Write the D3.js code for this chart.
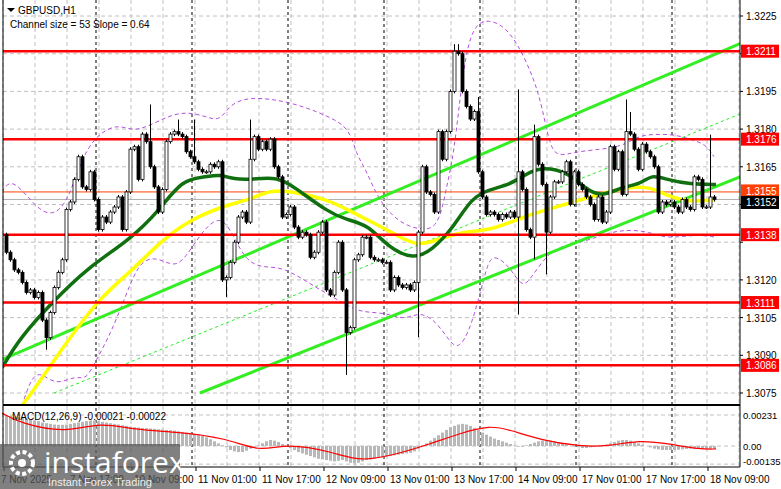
<!DOCTYPE html>
<html><head><meta charset="utf-8">
<script src="https://cdn.jsdelivr.net/npm/d3@7"></script>
<style>body{margin:0;background:#fff}svg{display:block;font-family:"Liberation Sans",Arial,sans-serif}</style>
</head><body><svg id="c" width="781" height="489"></svg>
<script>
const closes=[1.3131,1.3128,1.3124,1.3123,1.3119,1.3115,1.3116,1.3113,1.3115,1.3104,
1.3097,1.3107,1.3117,1.3123,1.3128,1.3148,1.3151,1.3160,1.3169,1.3157,
1.3156,1.3163,1.3152,1.3140,1.3145,1.3143,1.3147,1.3149,1.3153,1.3140,
1.3155,1.3172,1.3173,1.3160,1.3178,1.3175,1.3165,1.3157,1.3147,1.3156,
1.3175,1.3178,1.3179,1.3178,1.3177,1.3171,1.3169,1.3167,1.3164,1.3163,
1.3163,1.3166,1.3165,1.3167,1.3120,1.3121,1.3127,1.3135,1.3145,1.3147,
1.3143,1.3168,1.3177,1.3172,1.3175,1.3172,1.3176,1.3165,1.3161,1.3145,
1.3146,1.3149,1.3141,1.3137,1.3139,1.3138,1.3129,1.3131,1.3139,1.3143,
1.3116,1.3114,1.3123,1.3135,1.3116,1.3099,1.3101,1.3128,1.3130,1.3137,
1.3137,1.3129,1.3128,1.3128,1.3127,1.3127,1.3116,1.3121,1.3118,1.3117,
1.3118,1.3116,1.3119,1.3139,1.3165,1.3155,1.3154,1.3147,1.3179,1.3168,
1.3179,1.3195,1.3211,1.3210,1.3195,1.3189,1.3184,1.3187,1.3163,1.3153,
1.3146,1.3147,1.3146,1.3144,1.3146,1.3145,1.3147,1.3145,1.3163,1.3156,
1.3140,1.3137,1.3177,1.3166,1.3158,1.3139,1.3153,1.3159,1.3159,1.3163,
1.3167,1.3150,1.3163,1.3158,1.3156,1.3153,1.3150,1.3144,1.3153,1.3143,
1.3147,1.3173,1.3164,1.3171,1.3154,1.3179,1.3178,1.3172,1.3164,1.3174,
1.3171,1.3169,1.3165,1.3147,1.3151,1.3150,1.3151,1.3149,1.3147,1.3152,
1.3149,1.3148,1.3161,1.3160,1.3149,1.3149,1.3153,1.3152];
const firstOpen=1.3138;
const highs=[[36,1.3189],[43,1.3183],[47,1.3183],[61,1.3183],[112,1.3213],[113,1.3213],[118,1.3192],[128,1.3195],[132,1.3181],[155,1.3191],[156,1.3186],[176,1.3177]];
const lows=[[10,1.3093],[55,1.3114],[85,1.3083],[103,1.3098],[128,1.3107],[132,1.3129],[135,1.3123]];
const levels=[1.3211,1.3176,1.3138,1.3111,1.3086];
const priceTicks=[1.3225,1.3210,1.3195,1.3180,1.3165,1.3150,1.3135,1.3120,1.3105,1.3090,1.3075];
const timeLabels=["7 Nov 2025","7 Nov 17:00","10 Nov 09:00","11 Nov 01:00","11 Nov 17:00","12 Nov 09:00","13 Nov 01:00","13 Nov 17:00","14 Nov 09:00","17 Nov 01:00","17 Nov 17:00","18 Nov 09:00"];
const daySeps=[22.5,46.5,70.5,94.5,118.5,142.5,166.5];
const maFast=[[-1,1.3085],[3.5,1.3097],[11.5,1.3111],[20.5,1.3125],[31,1.3136],[38.5,1.3148],[44,1.3160],[50,1.3161],[53.5,1.3162],[57,1.3160],[61.5,1.3160],[68,1.3161],[72,1.3157],[80.5,1.3147],[85,1.3144],[90.5,1.3142],[95.5,1.3133],[102,1.3128],[106.5,1.3132],[111.5,1.3140],[116.5,1.3153],[121,1.3156],[126,1.3158],[130,1.3162],[133.5,1.3165],[140.5,1.3163],[145,1.3156],[149,1.3153],[154,1.3157],[158.5,1.3158],[161.5,1.3162],[165,1.3160],[171,1.3158],[177.5,1.3158]];
const maSlow=[[3,1.3068],[6.5,1.3075],[15,1.3095],[23.5,1.3113],[31,1.3123],[38.5,1.3135],[45,1.3143],[53.5,1.3149],[61,1.3152],[66.5,1.3156],[72,1.3155],[80.5,1.3152],[86.5,1.3147],[91.5,1.3143],[97.5,1.3138],[103,1.3133],[109.5,1.3137],[114,1.3139],[122,1.3140],[129,1.3145],[137.5,1.3149],[144,1.3152],[152.5,1.3156],[157.5,1.3157],[161,1.3157],[166,1.3153],[171,1.3151],[177.5,1.3152]];
const envUpper=[[-1,1.3155],[1,1.3160],[4.5,1.3155],[7,1.3150],[11,1.3145],[15.5,1.3150],[20,1.3175],[28,1.3183],[32,1.3178],[40,1.3185],[45,1.3187],[50,1.3185],[53.5,1.3183],[56,1.3190],[61,1.3193],[71,1.3191],[81,1.3185],[86,1.3180],[87.5,1.3170],[90,1.3164],[93,1.3152],[98,1.3143],[103,1.3140],[108,1.3140],[110,1.3156],[112,1.3170],[114,1.3200],[116,1.3218],[119,1.3224],[124,1.3222],[128,1.3214],[132,1.3200],[134,1.3189],[136,1.3173],[138,1.3169],[142.5,1.3171],[149,1.3172],[153,1.3173],[156,1.3175],[159,1.3178],[167,1.3178],[171,1.3176],[175,1.3174],[177,1.3169]];
const envLower=[[4,1.3070],[6.5,1.3082],[9,1.3083],[12.5,1.3078],[17.5,1.3082],[20,1.3080],[22.5,1.3088],[26,1.3098],[30,1.3114],[33.5,1.3128],[38,1.3129],[42,1.3125],[45,1.3129],[48.5,1.3138],[52,1.3144],[55,1.3144],[59,1.3130],[62,1.3126],[65,1.3125],[69.5,1.3125],[76.5,1.3118],[85,1.3110],[89,1.3107],[95,1.3107],[99.5,1.3104],[103,1.3107],[106.5,1.3105],[110,1.3098],[113,1.3091],[116.5,1.3102],[119.5,1.3121],[121,1.3129],[123,1.3129],[126,1.3125],[129,1.3117],[131,1.3120],[136,1.3132],[141,1.3134],[146,1.3136],[151,1.3139],[156,1.3140],[161,1.3139],[164,1.3137],[168,1.3137],[173,1.3138],[177.5,1.3137]];
const chUpper=[[-1.5,1.3088],[183.5,1.3214]];
const chLower=[[48.5,1.3075],[183.5,1.3161]];
const chMid=[[12,1.3075],[183.5,1.3186]];
const macdHist=[230,225,220,215,210,205,200,190,185,175,170,165,160,158,158,160,165,170,175,180,185,190,190,185,180,175,170,165,160,155,150,145,140,138,135,133,130,128,125,122,120,118,115,110,105,100,95,90,85,75,65,50,35,20,5,-10,-30,-40,-45,-45,-35,-20,-5,5,20,35,45,40,30,15,0,-15,-30,-45,-55,-65,-75,-85,-95,-100,-105,-110,-115,-110,-105,-115,-125,-130,-125,-115,-105,-100,-95,-90,-85,-80,-75,-70,-65,-60,-55,-50,-40,-20,5,20,40,60,80,100,120,140,150,160,165,160,150,135,120,100,85,70,55,45,35,25,15,5,-5,-5,5,15,25,35,40,45,40,35,30,20,10,0,-5,-10,-15,-15,-10,-5,0,5,10,20,30,40,45,45,40,30,20,10,0,-10,-20,-25,-30,-30,-30,-30,-28,-25,-22,-20,-20,-20,-20,-20,-21,-21];
const macdSignal=[[-1,245],[3.5,170],[15,95],[23.5,180],[32,120],[43,105],[55,60],[63.5,-45],[70,20],[82,-45],[88.5,-120],[98.5,-55],[106,15],[113.5,95],[121,155],[126,120],[133.5,45],[143.5,-5],[151,0],[158.5,45],[166,15],[173.5,-25],[177.5,-22]];

const svg=d3.select("#c");
const L=3,R=740,T=0,B=405,MB=467;
const FS=10;
const x=d3.scaleLinear().domain([0,177]).range([6,714]);
const y=d3.scaleLinear().domain([1.3075,1.3225]).range([393,16]);
const ym=d3.scaleLinear().domain([0,231]).range([446,415]);
const g=svg.append("g");
const gridX=d3.range(-0.75,184,8);
g.selectAll(".gx").data(gridX).enter().append("line").attr("x1",d=>x(d)).attr("x2",d=>x(d)).attr("y1",T).attr("y2",MB).attr("stroke","#c0c0c0").attr("stroke-dasharray","4,3");
g.selectAll(".gy").data(priceTicks).enter().append("line").attr("x1",L).attr("x2",R).attr("y1",d=>y(d)).attr("y2",d=>y(d)).attr("stroke","#c0c0c0").attr("stroke-dasharray","4,3");
g.selectAll(".gm").data([231,0,-135]).enter().append("line").attr("x1",L).attr("x2",R).attr("y1",d=>ym(d)).attr("y2",d=>ym(d)).attr("stroke","#c0c0c0").attr("stroke-dasharray","4,3");
g.selectAll(".ds").data(daySeps).enter().append("line").attr("x1",d=>x(d)).attr("x2",d=>x(d)).attr("y1",T).attr("y2",MB).attr("stroke","#000").attr("stroke-dasharray","3,3");
g.append("line").attr("x1",L).attr("x2",R).attr("y1",y(1.3155)).attr("y2",y(1.3155)).attr("stroke","#ff4000").attr("stroke-width",1);
g.append("line").attr("x1",L).attr("x2",R).attr("y1",y(1.3152)).attr("y2",y(1.3152)).attr("stroke","#b0b0b0").attr("stroke-width",1);
svg.append("clipPath").attr("id","cp").append("rect").attr("x",L).attr("y",T).attr("width",R-L).attr("height",B-T);
const main=svg.append("g").attr("clip-path","url(#cp)");
const ln=d3.line().x(d=>x(d[0])).y(d=>y(d[1])).curve(d3.curveBasis);
main.append("path").attr("d",ln(envUpper)).attr("fill","none").attr("stroke","#b44fe0").attr("stroke-dasharray","4,3").attr("stroke-width",1);
main.append("path").attr("d",ln(envLower)).attr("fill","none").attr("stroke","#b44fe0").attr("stroke-dasharray","4,3").attr("stroke-width",1);
const sl=d3.line().x(d=>x(d[0])).y(d=>y(d[1]));
main.append("path").attr("d",sl(chMid)).attr("fill","none").attr("stroke","#22ee22").attr("stroke-dasharray","3,3").attr("stroke-width",1);
main.append("path").attr("d",sl(chUpper)).attr("fill","none").attr("stroke","#33ee22").attr("stroke-width",3);
main.append("path").attr("d",sl(chLower)).attr("fill","none").attr("stroke","#33ee22").attr("stroke-width",3);
main.append("path").attr("d",ln(maSlow)).attr("fill","none").attr("stroke","#ffff00").attr("stroke-width",3.5);
main.append("path").attr("d",ln(maFast)).attr("fill","none").attr("stroke","#107010").attr("stroke-width",3.5);
main.selectAll(".lv").data(levels).enter().append("line").attr("x1",L).attr("x2",R).attr("y1",d=>y(d)).attr("y2",d=>y(d)).attr("stroke","#ff0000").attr("stroke-width",2.5);
const hm=new Map(highs),lm=new Map(lows);
const cd=closes.map((c,i)=>{const o=i?closes[i-1]:firstOpen;return{i,o,c,h:hm.get(i)||Math.max(o,c),l:lm.get(i)||Math.min(o,c)};});
const cg=main.selectAll(".cd").data(cd).enter().append("g");
cg.append("line").attr("x1",d=>x(d.i)+0.5).attr("x2",d=>x(d.i)+0.5).attr("y1",d=>y(d.h)-2).attr("y2",d=>y(d.l)+2).attr("stroke","#000");
cg.append("rect").attr("x",d=>x(d.i)-1).attr("width",3).attr("y",d=>y(Math.max(d.o,d.c))).attr("height",d=>Math.max(1,Math.abs(y(d.o)-y(d.c)))).attr("fill",d=>d.c>=d.o?"#fff":"#000").attr("stroke","#000").attr("stroke-width",0.8);
svg.selectAll(".mh").data(macdHist).enter().append("rect").attr("x",(d,i)=>x(i)-1).attr("width",3).attr("y",d=>Math.min(ym(d),ym(0))).attr("height",d=>Math.abs(ym(d)-ym(0))).attr("fill","#b8b8b8");
svg.append("path").attr("d",d3.line().x(d=>x(d[0])).y(d=>ym(d[1])).curve(d3.curveBasis)(macdSignal)).attr("fill","none").attr("stroke","#ff0000").attr("stroke-width",1.2);
svg.append("line").attr("x1",L).attr("x2",L).attr("y1",0).attr("y2",MB).attr("stroke","#000");
svg.append("line").attr("x1",R).attr("x2",R).attr("y1",0).attr("y2",MB).attr("stroke","#000");
svg.append("line").attr("x1",L).attr("x2",R).attr("y1",B).attr("y2",B).attr("stroke","#000").attr("stroke-width",2);
svg.append("line").attr("x1",L).attr("x2",R).attr("y1",MB).attr("y2",MB).attr("stroke","#000");
const axisTicks=priceTicks.filter(v=>!levels.some(l=>Math.abs(l-v)<0.00035)&&Math.abs(v-1.3150)>0.0001);
svg.selectAll(".pt").data(axisTicks).enter().append("text").attr("x",746).attr("y",d=>y(d)+4).attr("font-size",FS).text(d=>d.toFixed(4));
svg.selectAll(".pt2").data(priceTicks).enter().append("line").attr("x1",R).attr("x2",R+3).attr("y1",d=>y(d)).attr("y2",d=>y(d)).attr("stroke","#000");
const boxes=levels.map(v=>({v,c:"#ff0000",dy:0})).concat([{v:1.3155,c:"#ff4000",dy:-1},{v:1.3152,c:"#000",dy:3}]);
svg.selectAll(".bx").data(boxes).enter().append("rect").attr("x",741).attr("width",38).attr("y",d=>y(d.v)-6.5+d.dy).attr("height",13).attr("fill",d=>d.c);
svg.selectAll(".bt").data(boxes).enter().append("text").attr("x",746).attr("y",d=>y(d.v)+4+d.dy).attr("font-size",FS).attr("fill","#fff").text(d=>d.v.toFixed(4));
svg.selectAll(".mt").data([["0.00231",231],["0.00",0],["-0.00135",-135]]).enter().append("text").attr("x",743).attr("y",d=>Math.min(ym(d[1])+4,465)).attr("font-size",9.5).text(d=>d[0]);
svg.selectAll(".tl").data(timeLabels).enter().append("text").attr("x",(d,i)=>i?x(-1+16*i)+4:1).attr("y",483).attr("font-size",FS).text(d=>d);
svg.selectAll(".tt").data(timeLabels).enter().append("line").attr("x1",(d,i)=>x(-1+16*i)+2).attr("x2",(d,i)=>x(-1+16*i)+2).attr("y1",MB).attr("y2",MB+4).attr("stroke","#000");
svg.append("path").attr("d","M7,8 L15,8 L11,12 Z").attr("fill","#000");
svg.append("text").attr("x",18).attr("y",14).attr("font-size",FS).text("GBPUSD,H1");
svg.append("text").attr("x",10).attr("y",28).attr("font-size",FS).text("Channel size = 53 Slope = 0.64");
svg.append("text").attr("x",12).attr("y",420).attr("font-size",FS).text("MACD(12,26,9) -0.00021 -0.00022");
const wm=svg.append("g");
wm.append("rect").attr("x",0).attr("y",444).attr("width",180).attr("height",45).attr("fill","#555").attr("opacity",0.75);
wm.append("circle").attr("cx",22).attr("cy",463).attr("r",11).attr("fill","none").attr("stroke","#fff").attr("stroke-width",4).attr("stroke-dasharray","4,2.5");
wm.append("circle").attr("cx",22).attr("cy",463).attr("r",4).attr("fill","#fff");
wm.append("text").attr("x",44).attr("y",473).attr("font-size",30).attr("fill","#fff").attr("font-family","Open Sans, sans-serif").text("instaforex");
wm.append("text").attr("x",48).attr("y",486).attr("font-size",11).attr("fill","#eee").text("Instant Forex Trading");
</script></body></html>
